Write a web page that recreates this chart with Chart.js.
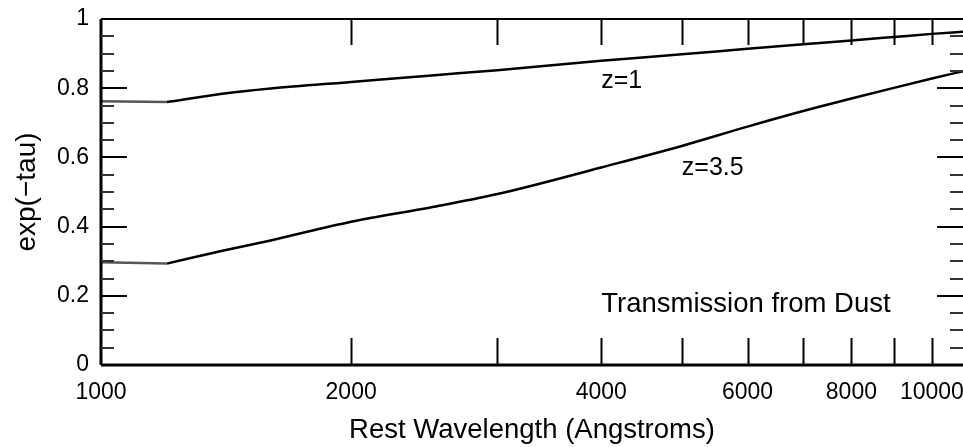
<!DOCTYPE html>
<html>
<head>
<meta charset="utf-8">
<script src="https://cdn.jsdelivr.net/npm/chart.js@4"></script>
<style>
  html, body { margin: 0; padding: 0; background: #fff; }
  #wrap { width: 963px; height: 447px; }
</style>
</head>
<body>
<div id="wrap"><canvas id="dust-chart" width="963" height="447"></canvas></div>
<script>
// data
const wavelength = [1000, 1200, 1400, 1600, 2000, 2500, 3000, 4000, 5000, 6000, 7000, 8000, 9000, 10000, 10900];
const transZ1 = [0.762, 0.760, 0.784, 0.799, 0.818, 0.837, 0.852, 0.879, 0.898, 0.914, 0.927, 0.938, 0.948, 0.957, 0.963];
const transZ35 = [0.297, 0.293, 0.330, 0.360, 0.414, 0.456, 0.494, 0.571, 0.633, 0.689, 0.734, 0.770, 0.801, 0.828, 0.849];
const kneeWavelength = 1200; // below this the curves are flat

const xMin = 1000;
const xMax = 10900;
const xTickValues = [1000, 2000, 3000, 4000, 5000, 6000, 7000, 8000, 9000, 10000];
const xTickLabels = [1000, 2000, 4000, 6000, 8000, 10000];
const yMajorTicks = [0, 0.2, 0.4, 0.6, 0.8, 1];
const yMinorTicks = [0.05, 0.1, 0.15, 0.25, 0.3, 0.35, 0.45, 0.5, 0.55, 0.65, 0.7, 0.75, 0.85, 0.9, 0.95];

// text placed in data coordinates
const notes = [
    { text: 'z=1', x: 4000, y: 0.802, size: 25 },
    { text: 'z=3.5', x: 5000, y: 0.55, size: 25 },
    { text: 'Transmission from Dust', x: 4000, y: 0.152, size: 27.5 }
];

const FONT = "'Liberation Sans', Arial, sans-serif";

function toPoints(xs, ys, keep) {
    return xs.map((x, i) => ({ x: x, y: ys[i] })).filter(p => keep(p.x));
}

const framePlugin = {
    id: 'frame',
    afterDatasetsDraw(chart) {
        const ctx = chart.ctx;
        const a = chart.chartArea;
        const xs = chart.scales.x;
        const ys = chart.scales.y;
        ctx.save();
        ctx.strokeStyle = '#000';

        // frame: left, top, bottom
        ctx.lineWidth = 3;
        ctx.beginPath();
        ctx.moveTo(a.left, a.top);
        ctx.lineTo(a.left, a.bottom);
        ctx.moveTo(a.left, a.bottom);
        ctx.lineTo(a.right, a.bottom);
        ctx.stroke();
        ctx.lineWidth = 2;
        ctx.beginPath();
        ctx.moveTo(a.left, a.top);
        ctx.lineTo(a.right, a.top);
        ctx.stroke();

        // x ticks, inward on bottom and top
        ctx.lineWidth = 2;
        ctx.beginPath();
        xTickValues.forEach(v => {
            if (v === xMin) return;
            const px = Math.round(xs.getPixelForValue(v)) + 0.5;
            ctx.moveTo(px, a.bottom);
            ctx.lineTo(px, a.bottom - 27);
            ctx.moveTo(px, a.top);
            ctx.lineTo(px, a.top + 26);
        });
        ctx.stroke();

        // y ticks, inward on left and right
        ctx.beginPath();
        yMajorTicks.forEach(v => {
            const py = Math.round(ys.getPixelForValue(v));
            ctx.moveTo(a.left, py);
            ctx.lineTo(a.left + 26, py);
            ctx.moveTo(a.right, py);
            ctx.lineTo(a.right - 26, py);
        });
        ctx.stroke();
        ctx.strokeStyle = '#333';
        ctx.beginPath();
        yMinorTicks.forEach(v => {
            const py = Math.round(ys.getPixelForValue(v));
            ctx.moveTo(a.left, py);
            ctx.lineTo(a.left + 13, py);
            ctx.moveTo(a.right, py);
            ctx.lineTo(a.right - 13, py);
        });
        ctx.stroke();

        // labels inside the plot
        ctx.fillStyle = '#000';
        ctx.textAlign = 'left';
        ctx.textBaseline = 'alphabetic';
        notes.forEach(n => {
            ctx.font = n.size + 'px ' + FONT;
            ctx.fillText(n.text, xs.getPixelForValue(n.x), ys.getPixelForValue(n.y));
        });
        ctx.restore();
    }
};

// flat part (drawn greyish, straight) and rising part (smooth) of each curve
function curve(label, values) {
    return [{
        label: label + ' flat',
        data: toPoints(wavelength, values, x => x <= kneeWavelength),
        borderColor: '#555',
        borderWidth: 2.5,
        pointRadius: 0,
        fill: false
    }, {
        label: label,
        data: toPoints(wavelength, values, x => x >= kneeWavelength),
        borderColor: '#000',
        borderWidth: 2.5,
        pointRadius: 0,
        fill: false,
        cubicInterpolationMode: 'monotone'
    }];
}

window.onload = function() {
    const ctx = document.getElementById('dust-chart').getContext('2d');
    new Chart(ctx, {
        type: 'line',
        data: {
            datasets: [].concat(curve('z=1', transZ1), curve('z=3.5', transZ35))
        },
        options: {
            responsive: false,
            animation: false,
            devicePixelRatio: 1,
            layout: { padding: { top: 19, right: 0, left: 0, bottom: 0 } },
            plugins: {
                legend: { display: false },
                tooltip: { enabled: false }
            },
            scales: {
                x: {
                    type: 'logarithmic',
                    min: xMin,
                    max: xMax,
                    grid: { display: false, drawTicks: false },
                    border: { display: false },
                    afterBuildTicks: s => { s.ticks = xTickValues.map(v => ({ value: v })); },
                    afterFit: s => { s.height = 82; s.paddingLeft = 0; s.paddingRight = 0; },
                    ticks: {
                        autoSkip: false,
                        maxRotation: 0,
                        padding: 14,
                        color: '#000',
                        font: { family: FONT, size: 23 },
                        callback: v => xTickLabels.includes(v) ? String(v) : ''
                    },
                    title: {
                        display: true,
                        text: 'Rest Wavelength (Angstroms)',
                        color: '#000',
                        font: { family: FONT, size: 27.5 },
                        padding: { top: 0, bottom: 0 }
                    }
                },
                y: {
                    min: 0,
                    max: 1,
                    grid: { display: false, drawTicks: false },
                    border: { display: false },
                    afterBuildTicks: s => { s.ticks = yMajorTicks.map(v => ({ value: v })); },
                    afterFit: s => { s.width = 101; s.paddingTop = 0; s.paddingBottom = 0; },
                    ticks: {
                        padding: 12,
                        color: '#000',
                        font: { family: FONT, size: 23 },
                        callback: v => String(v)
                    },
                    title: {
                        display: true,
                        text: 'exp(\u2212tau)',
                        color: '#000',
                        font: { family: FONT, size: 28 },
                        padding: { top: 10, bottom: 0 }
                    }
                }
            }
        },
        plugins: [framePlugin]
    });
};
</script>
</body>
</html>
